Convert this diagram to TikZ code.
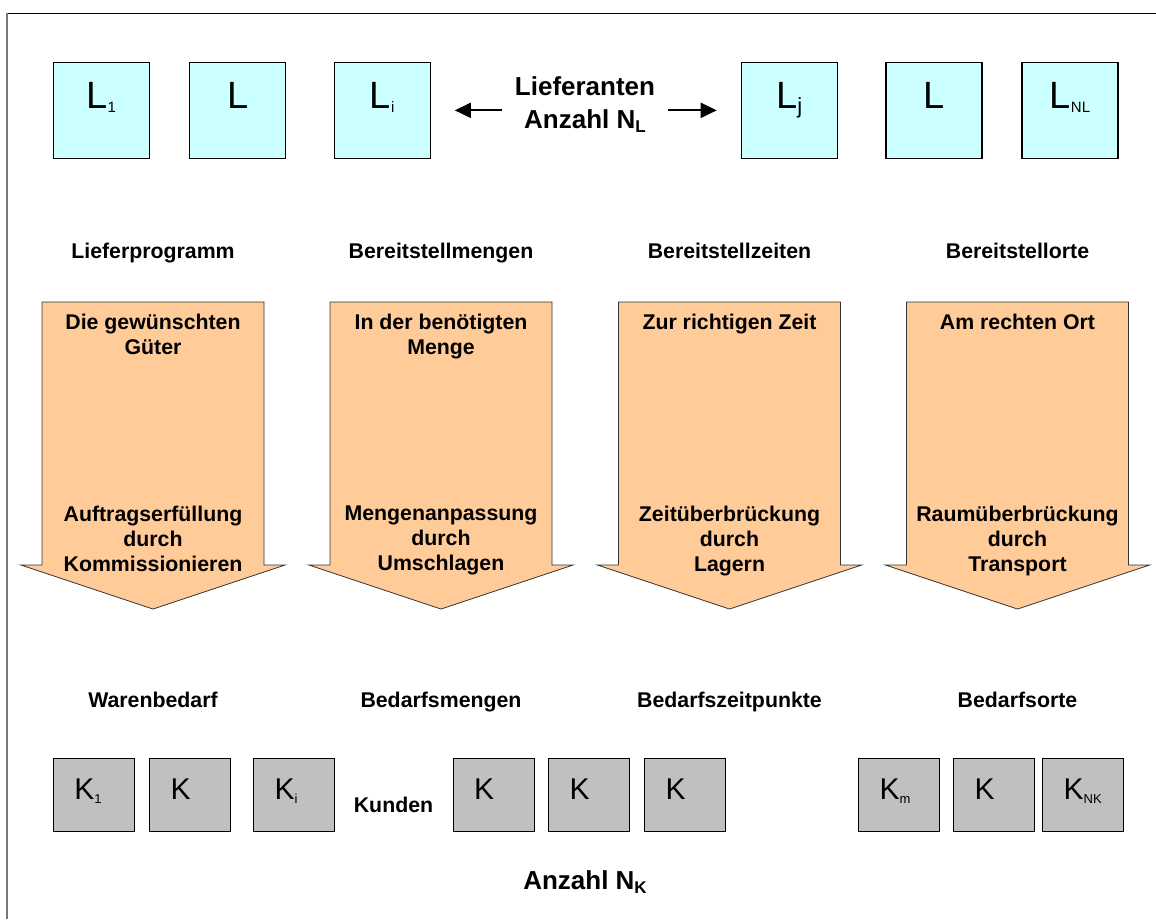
\documentclass[tikz,border=0pt]{standalone}
\usepackage{fontspec}
\setmainfont{Liberation Sans}
\usetikzlibrary{arrows.meta}

\definecolor{supplierfill}{RGB}{204,255,255}
\definecolor{customerfill}{RGB}{192,192,192}
\definecolor{flowfill}{RGB}{255,204,153}
\definecolor{framegray}{RGB}{120,120,120}

% lowered indices of different sizes
\newcommand\lidx[1]{\raisebox{-4.5pt}{\fontsize{15}{15}\selectfont #1}}
\newcommand\jidx[1]{\raisebox{-5pt}{\fontsize{22}{22}\selectfont #1}}
\newcommand\kidx[1]{\raisebox{-3.3pt}{\fontsize{13}{13}\selectfont #1}}
\newcommand\nidx[1]{\raisebox{-4.4pt}{\fontsize{17}{17}\selectfont #1}}

\begin{document}
\begin{tikzpicture}[x=1pt,y=-1pt,
  supplier/.style={draw=black,line width=1.3pt,fill=supplierfill,
    anchor=north west,inner sep=0pt,minimum width=96pt,
    text height=46pt,text depth=50pt,font=\fontsize{38}{38}\selectfont},
  customer/.style={draw=black,line width=1.3pt,fill=customerfill,
    anchor=north west,inner sep=0pt,text width=81pt,align=left,
    text height=41.5pt,text depth=31.5pt,font=\fontsize{30}{30}\selectfont},
  flow/.style={draw=black!80,line width=0.8pt,fill=flowfill},
  flowtext/.style={anchor=north,inner sep=0pt,align=center,
    font=\fontsize{21.3}{25}\selectfont\bfseries},
  cat/.style={anchor=base,inner sep=0pt,font=\fontsize{21.3}{25}\selectfont\bfseries},
  title/.style={inner sep=0pt,align=center,font=\fontsize{26}{33}\selectfont\bfseries},
  conn/.style={line width=2pt,-{Triangle[length=16pt,width=15pt]}}
]
\useasboundingbox (0,0) rectangle (1156,919);

% frame
\draw[black,line width=1.2pt] (6.7,13.3) -- (1156,13.3);
\draw[framegray,line width=2pt] (6.7,13.3) -- (6.7,919);

% suppliers
\node[supplier] (L1) at (52.7,61.7)  {L\lidx{1}};
\node[supplier] (L2) at (189,61.7)   {L};
\node[supplier] (Li) at (333.5,61.7) {L\lidx{i}};
\node[supplier] (Lj) at (740.7,61.7) {L\jidx{j}};
\node[supplier] (L5) at (885.3,61.7) {L};
\node[supplier] (LN) at (1021.3,61.7) {L\lidx{NL}};

\node[title,anchor=north] (lief) at (585,76) {Lieferanten\\Anzahl N\nidx{L}};

\coordinate (tipLi) at ([xshift=24pt]Li.east);
\coordinate (tipLj) at ([xshift=-24pt]Lj.west);
\coordinate (startL) at ([xshift=-13pt]lief.west);
\coordinate (startR) at ([xshift=13pt]lief.east);
\draw[conn] (startL |- tipLi) -- (tipLi);
\draw[conn] (startR |- tipLj) -- (tipLj);

% supply-side labels
\node[cat] (s1) at (153,258)    {Lieferprogramm};
\node[cat] (s2) at (441,258)    {Bereitstellmengen};
\node[cat] (s3) at (729.5,258)  {Bereitstellzeiten};
\node[cat] (s4) at (1017.5,258) {Bereitstellorte};

% flow arrows
\foreach \c in {153,441,729.5,1017.5}
  \draw[flow] (\c-111,302) -- (\c+111,302) -- (\c+111,565) -- (\c+132,565)
    -- (\c,609) -- (\c-132,565) -- (\c-111,565) -- cycle;

\node[flowtext] (t1) at (153,313.5)    {Die gewünschten\\Güter};
\node[flowtext] (t2) at (441,313.5)    {In der benötigten\\Menge};
\node[flowtext] (t3) at (729.5,313.5)  {Zur richtigen Zeit};
\node[flowtext] (t4) at (1017.5,313.5) {Am rechten Ort};

\node[flowtext] (b1) at (153,506)    {Auftragserfüllung\\durch\\Kommissionieren};
\node[flowtext] (b2) at (441,506)    {Mengenanpassung\\durch\\Umschlagen};
\node[flowtext] (b3) at (729.5,506)  {Zeitüberbrückung\\durch\\Lagern};
\node[flowtext] (b4) at (1017.5,506) {Raumüberbrückung\\durch\\Transport};

% demand-side labels
\node[cat] (d1) at (153,707)    {Warenbedarf};
\node[cat] (d2) at (441,707)    {Bedarfsmengen};
\node[cat] (d3) at (729.5,707)  {Bedarfszeitpunkte};
\node[cat] (d4) at (1017.5,707) {Bedarfsorte};

% customers
\node[customer] (K1) at (52.7,757.7) {\hspace*{21pt}K\kidx{1}};
\node[customer] (K2) at (149,757.7)  {\hspace*{21pt}K};
\node[customer] (Ki) at (253,757.7)  {\hspace*{21pt}K\kidx{i}};
\node[cat] (kunden) at (393.5,812.7) {Kunden};
\node[customer] (K4) at (452.5,757.7) {\hspace*{21pt}K};
\node[customer] (K5) at (548,757.7)   {\hspace*{21pt}K};
\node[customer] (K6) at (644,757.7)   {\hspace*{21pt}K};
\node[customer] (Km) at (858,757.7)   {\hspace*{21pt}K\kidx{m}};
\node[customer] (K8) at (953,757.7)   {\hspace*{21pt}K};
\node[customer] (KN) at (1042,757.7)  {\hspace*{21pt}K\kidx{NK}};

\node[title,anchor=base] (anzk) at (585,889) {Anzahl N\nidx{K}};
\end{tikzpicture}
\end{document}
